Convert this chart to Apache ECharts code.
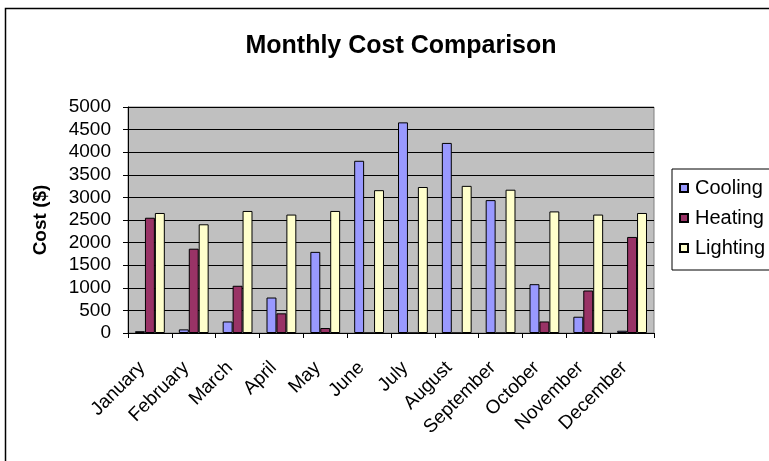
<!DOCTYPE html>
<html>
<head>
<meta charset="utf-8">
<script src="https://cdn.jsdelivr.net/npm/echarts@6/dist/echarts.min.js"></script>
<style>
  html, body { margin: 0; padding: 0; background: #fff; }
</style>
</head>
<body>
<div id="chart" style="width: 769px; height: 461px;"></div>
<script>
// chart data
const months = ['January', 'February', 'March', 'April', 'May', 'June',
  'July', 'August', 'September', 'October', 'November', 'December'];
const cooling = [40, 80, 255, 785, 1795, 3810, 4660, 4205, 2940, 1080, 360, 50];
const heating = [2550, 1865, 1045, 435, 110, 0, 0, 0, 0, 255, 940, 2125];
const lighting = [2655, 2405, 2700, 2620, 2700, 3160, 3230, 3255, 3170, 2690, 2620, 2655];

const font = 'Arial, "Liberation Sans", sans-serif';

const myChart = echarts.init(document.getElementById('chart'), null, { renderer: 'canvas' });

const option = {
  backgroundColor: '#ffffff',
  animation: false,
  title: {
    text: 'Monthly Cost Comparison',
    left: 396,
    textAlign: 'center',
    top: 29,
    textStyle: {
      color: '#000',
      fontSize: 25,
      fontWeight: 'bold',
      fontFamily: font
    }
  },
  // outer chart frame (runs off the right and bottom edges)
  graphic: [{
    type: 'rect',
    shape: { x: 5.5, y: 8.5, width: 900, height: 600 },
    style: { fill: 'none', stroke: '#000', lineWidth: 1.5 },
    silent: true
  }],
  legend: {
    data: ['Cooling', 'Heating', 'Lighting'],
    orient: 'vertical',
    left: 672,
    top: 169,
    align: 'left',
    icon: 'rect',
    padding: [9, 12, 12, 7],
    itemGap: 10,
    itemWidth: 8,
    itemHeight: 8,
    borderColor: '#000',
    borderWidth: 1,
    backgroundColor: '#fff',
    textStyle: {
      color: '#000',
      fontSize: 20,
      fontFamily: font,
      lineHeight: 20,
      padding: [0, 0, 0, 2]
    }
  },
  grid: {
    left: 128,
    right: 115,
    top: 107,
    bottom: 128,
    show: true,
    backgroundColor: '#c0c0c0',
    borderColor: '#808080',
    borderWidth: 1
  },
  xAxis: {
    type: 'category',
    data: months,
    axisLine: { lineStyle: { color: '#000', width: 1 } },
    axisTick: { show: true, length: 5, lineStyle: { color: '#000' } },
    axisLabel: {
      rotate: 45,
      margin: 24,
      interval: 0,
      padding: [0, 11, 0, 0],
      color: '#000',
      fontSize: 19,
      fontFamily: font
    },
    splitLine: { show: false }
  },
  yAxis: {
    type: 'value',
    name: 'Cost ($)',
    nameLocation: 'middle',
    nameGap: 78,
    nameRotate: 90,
    nameTextStyle: {
      color: '#000',
      fontSize: 19,
      fontWeight: 'bold',
      fontFamily: font
    },
    min: 0,
    max: 5000,
    interval: 500,
    axisLine: { show: true, lineStyle: { color: '#000', width: 1 } },
    axisTick: { show: true, length: 5, lineStyle: { color: '#000' } },
    axisLabel: {
      margin: 17,
      color: '#000',
      fontSize: 19,
      fontFamily: font,
      formatter: v => String(v)
    },
    splitLine: { lineStyle: { color: '#000', width: 1 } }
  },
  series: [
    {
      name: 'Cooling',
      type: 'bar',
      data: cooling,
      barGap: '0%',
      barCategoryGap: '32%',
      itemStyle: { color: '#9999ff', borderColor: '#000', borderWidth: 1 }
    },
    {
      name: 'Heating',
      type: 'bar',
      data: heating,
      itemStyle: { color: '#993366', borderColor: '#000', borderWidth: 1 }
    },
    {
      name: 'Lighting',
      type: 'bar',
      data: lighting,
      itemStyle: { color: '#ffffcc', borderColor: '#000', borderWidth: 1 }
    }
  ]
};

myChart.setOption(option);
</script>
</body>
</html>
